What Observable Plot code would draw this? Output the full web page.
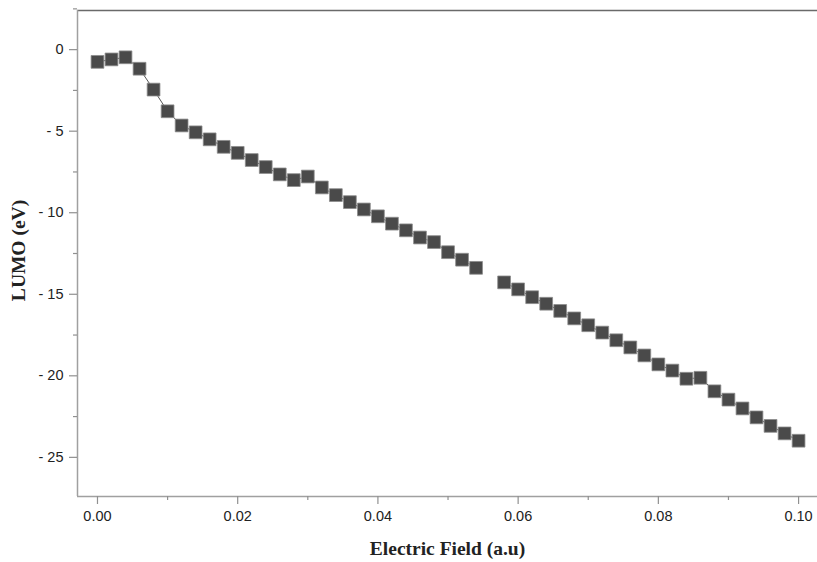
<!DOCTYPE html>
<html>
<head>
<meta charset="utf-8">
<script src="https://cdn.jsdelivr.net/npm/d3@7"></script>
<script src="https://cdn.jsdelivr.net/npm/@observablehq/plot@0.6"></script>
<style>
  html, body { margin: 0; padding: 0; background: #fff; }
  #chart svg { display: block; }
</style>
</head>
<body>
<div id="chart"></div>
<script>
// Electric field (a.u.) values
const field = [0.000,0.002,0.004,0.006,0.008,0.010,0.012,0.014,0.016,0.018,
               0.020,0.022,0.024,0.026,0.028,0.030,0.032,0.034,0.036,0.038,
               0.040,0.042,0.044,0.046,0.048,0.050,0.052,0.054,0.056,0.058,
               0.060,0.062,0.064,0.066,0.068,0.070,0.072,0.074,0.076,0.078,
               0.080,0.082,0.084,0.086,0.088,0.090,0.092,0.094,0.096,0.098,0.100];
// LUMO (eV) values (null = missing point at 0.056)
const lumo = [-0.75,-0.6,-0.47,-1.17,-2.45,-3.78,-4.65,-5.07,-5.5,-5.96,
              -6.33,-6.77,-7.2,-7.65,-8.0,-7.78,-8.45,-8.92,-9.35,-9.8,
              -10.22,-10.67,-11.08,-11.52,-11.8,-12.42,-12.88,-13.38,null,-14.27,
              -14.7,-15.18,-15.58,-16.02,-16.48,-16.9,-17.35,-17.82,-18.26,-18.75,
              -19.3,-19.68,-20.18,-20.12,-20.95,-21.46,-22.0,-22.55,-23.07,-23.53,-23.98];

const xTicks = [0, 0.02, 0.04, 0.06, 0.08, 0.10];
const xMinorTicks = [0.01, 0.03, 0.05, 0.07, 0.09];
const yTicks = [0, -5, -10, -15, -20, -25];
const yMinorTicks = [2.5, -2.5, -7.5, -12.5, -17.5, -22.5];
const xDomain = [-0.00285, 0.1027];
const yDomain = [-27.4, 2.4];
const xLabel = "Electric Field (a.u)";
const yLabel = "LUMO (eV)";

const data = field.map((x, i) => ({x, y: lumo[i] == null ? NaN : lumo[i]}));

const tickFont = "'Liberation Sans', Arial, sans-serif";
const titleFont = "'Liberation Serif', 'Times New Roman', serif";

const chart = Plot.plot({
  width: 817,
  height: 562,
  marginLeft: 77,
  marginRight: 0,
  marginTop: 10,
  marginBottom: 66,
  style: {fontFamily: tickFont, fontSize: "14.5px", color: "#222", background: "#fff"},
  x: {domain: xDomain, axis: null},
  y: {domain: yDomain, axis: null},
  marks: [
    // frame lines
    Plot.ruleY([yDomain[1]], {stroke: "#6a6a6a", strokeWidth: 1.5}),
    Plot.ruleY([yDomain[0]], {stroke: "#a0a0a0", strokeWidth: 1.5}),
    Plot.ruleX([xDomain[0]], {stroke: "#a0a0a0", strokeWidth: 1.5}),
    // axes
    Plot.axisX({ticks: xTicks, tickSize: 8, tickPadding: 6, tickFormat: d3.format(".2f"),
                stroke: "#909090", strokeWidth: 1.2, fontSize: "14.5px", label: null}),
    Plot.axisX({ticks: xMinorTicks, tickSize: 4, text: null, stroke: "#909090", strokeWidth: 1.2, label: null}),
    Plot.axisY({ticks: yTicks, tickSize: 8, tickPadding: 6,
                tickFormat: d => d < 0 ? "- " + Math.abs(d) : String(d),
                stroke: "#909090", strokeWidth: 1.2, fontSize: "14.5px", label: null}),
    Plot.axisY({ticks: yMinorTicks, tickSize: 4, text: null, stroke: "#909090", strokeWidth: 1.2, label: null}),
    // axis titles
    Plot.text([yLabel], {text: d => d, frameAnchor: "left", textAnchor: "middle", lineAnchor: "middle",
                         dx: -59, dy: -3, rotate: -90,
                         fontFamily: titleFont, fontWeight: "bold", fontSize: 19.5, fill: "#222"}),
    Plot.text([xLabel], {text: d => d, frameAnchor: "bottom", textAnchor: "middle", lineAnchor: "middle",
                         dy: 52,
                         fontFamily: titleFont, fontWeight: "bold", fontSize: 19.5, fill: "#222"}),
    // data
    Plot.line(data, {x: "x", y: "y", stroke: "#555", strokeWidth: 1}),
    Plot.dot(data.filter(d => !isNaN(d.y)), {x: "x", y: "y", symbol: "square", r: 7.2,
                         fill: "#4a4a4a", stroke: "#8c8c8c", strokeWidth: 0.8})
  ]
});
document.getElementById("chart").appendChild(chart);
</script>
</body>
</html>
